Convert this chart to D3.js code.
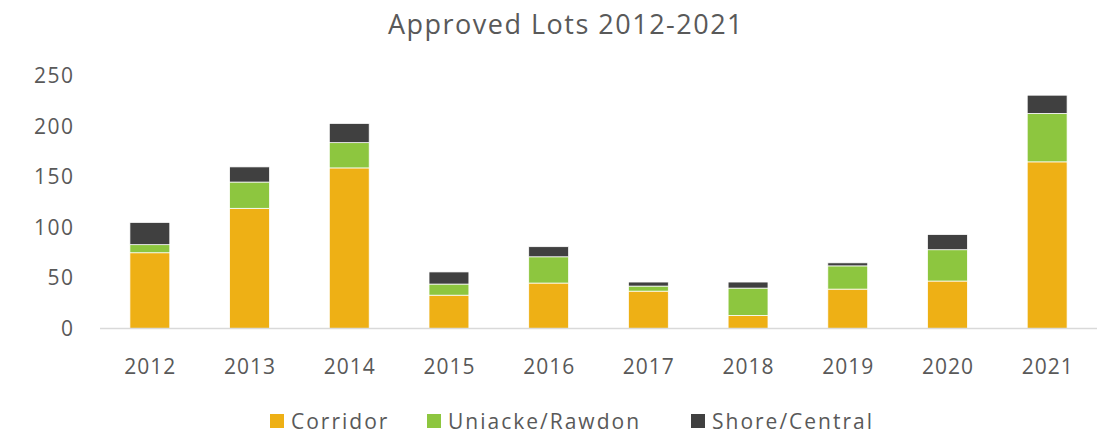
<!DOCTYPE html>
<html>
<head>
<meta charset="utf-8">
<script src="https://cdn.jsdelivr.net/npm/d3@7"></script>
<style>
  body { margin: 0; background: #fff; }
  text { font-family: "Open Sans", "Noto Sans", sans-serif; fill: #595959; }
</style>
</head>
<body>
<div id="chart"></div>
<script>
// data
var years = ["2012", "2013", "2014", "2015", "2016", "2017", "2018", "2019", "2020", "2021"];
var corridor = [75, 119, 159, 33, 45, 37, 13, 39, 47, 165];
var uniacke  = [8, 26, 25, 11, 26, 5, 27, 23, 31, 48];
var shore    = [22, 15, 19, 12, 10, 4, 6, 3, 15, 18];
var seriesNames = ["Corridor", "Uniacke/Rawdon", "Shore/Central"];
var yTicks = [0, 50, 100, 150, 200, 250];

var width = 1097, height = 437;
var colors = ["#EEB015", "#8DC63F", "#404040"];

var svg = d3.select("#chart").append("svg")
    .attr("width", width)
    .attr("height", height);

var x = d3.scaleBand()
    .domain(years)
    .range([100, 1097])
    .paddingInner(0.6)
    .paddingOuter(0.3);

var y = d3.scaleLinear()
    .domain([0, 250])
    .range([328.5, 76]);

// build rows for the stack
var rows = years.map(function(yr, i) {
  return { year: yr, "Corridor": corridor[i], "Uniacke/Rawdon": uniacke[i], "Shore/Central": shore[i] };
});
var stacked = d3.stack().keys(seriesNames)(rows);

// title
svg.append("text")
    .attr("x", 566)
    .attr("y", 34)
    .attr("text-anchor", "middle")
    .style("font-size", "27px")
    .style("letter-spacing", "1.5px")
    .text("Approved Lots 2012-2021");

// y labels
svg.selectAll(".ylab")
    .data(yTicks)
    .enter().append("text")
    .attr("class", "ylab")
    .attr("x", 74.5)
    .attr("y", function(d) { return y(d); })
    .attr("dy", "0.35em")
    .attr("text-anchor", "end")
    .style("font-size", "21px")
    .style("letter-spacing", "1.5px")
    .text(function(d) { return d; });

// bars
svg.selectAll(".layer")
    .data(stacked)
    .enter().append("g")
    .attr("class", "layer")
    .attr("fill", function(d, i) { return colors[i]; })
    .selectAll("rect")
    .data(function(d) { return d; })
    .enter().append("rect")
    .attr("x", function(d) { return x(d.data.year); })
    .attr("y", function(d) { return y(d[1]); })
    .attr("width", x.bandwidth())
    .attr("height", function(d) { return y(d[0]) - y(d[1]); })
    .attr("stroke", "#fff")
    .attr("stroke-width", 0.75);

// baseline
svg.append("line")
    .attr("x1", 100).attr("x2", 1097)
    .attr("y1", y(0)).attr("y2", y(0))
    .attr("stroke", "#d9d9d9")
    .attr("stroke-width", 1.5);

// x labels
svg.selectAll(".xlab")
    .data(years)
    .enter().append("text")
    .attr("class", "xlab")
    .attr("x", function(d) { return x(d) + x.bandwidth() / 2 + 0.5; })
    .attr("y", 374)
    .attr("text-anchor", "middle")
    .style("font-size", "21px")
    .style("letter-spacing", "1px")
    .text(function(d) { return d; });

// legend
var legendX = [270, 427, 691];
var legend = svg.selectAll(".leg")
    .data(seriesNames)
    .enter().append("g")
    .attr("class", "leg")
    .attr("transform", function(d, i) { return "translate(" + legendX[i] + ",0)"; });

legend.append("rect")
    .attr("x", 0).attr("y", 414)
    .attr("width", 14).attr("height", 14)
    .attr("fill", function(d, i) { return colors[i]; });

legend.append("text")
    .attr("x", 21)
    .attr("y", 429)
    .style("font-size", "21px")
    .style("letter-spacing", "2px")
    .text(function(d) { return d; });
</script>
</body>
</html>
